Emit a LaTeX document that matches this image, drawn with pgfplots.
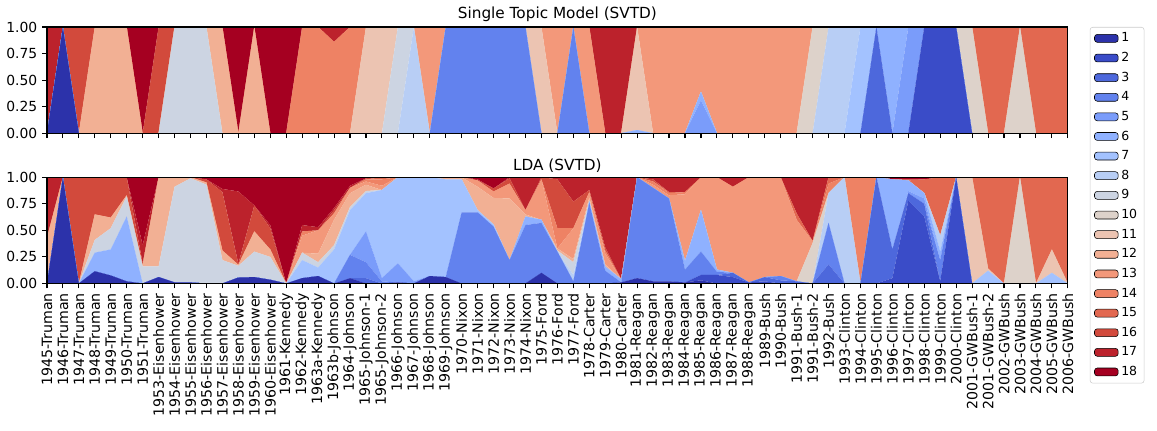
\documentclass[border=0pt]{standalone}
\usepackage{fontspec}
\setmainfont{DejaVu Sans}
\usepackage{pgfplots}
\usepackage{pgfplotstable}
\pgfplotsset{compat=1.18}

% coolwarm-like colours for topics 1..18
\definecolor{c1}{RGB}{44,50,170}
\definecolor{c2}{RGB}{58,76,200}
\definecolor{c3}{RGB}{77,104,220}
\definecolor{c4}{RGB}{98,130,238}
\definecolor{c5}{RGB}{122,156,250}
\definecolor{c6}{RGB}{143,177,255}
\definecolor{c7}{RGB}{163,194,255}
\definecolor{c8}{RGB}{184,206,245}
\definecolor{c9}{RGB}{204,212,226}
\definecolor{c10}{RGB}{221,210,202}
\definecolor{c11}{RGB}{236,196,178}
\definecolor{c12}{RGB}{242,176,148}
\definecolor{c13}{RGB}{243,152,122}
\definecolor{c14}{RGB}{238,130,100}
\definecolor{c15}{RGB}{226,104,80}
\definecolor{c16}{RGB}{210,74,60}
\definecolor{c17}{RGB}{188,34,44}
\definecolor{c18}{RGB}{165,0,33}

% single topic model
\pgfplotstableread{
k t1 t2 t3 t4 t5 t6 t7 t8 t9 t10 t11 t12 t13 t14 t15 t16 t17 t18
0  0 0 0 0 0 0 0 0 0 0 0 0 0 0 0 0 1 0
1  1 0 0 0 0 0 0 0 0 0 0 0 0 0 0 0 0 0
2  0 0 0 0 0 0 0 0 0 0 0 0 0 0 0 1 0 0
3  0 0 0 0 0 0 0 0 0 0 0 1 0 0 0 0 0 0
4  0 0 0 0 0 0 0 0 0 0 0 1 0 0 0 0 0 0
5  0 0 0 0 0 0 0 0 0 0 0 1 0 0 0 0 0 0
6  0 0 0 0 0 0 0 0 0 0 0 0 0 0 0 0 0 1
7  0 0 0 0 0 0 0 0 0 0 0 0 0 0 0 1 0 0
8  0 0 0 0 0 0 0 0 1 0 0 0 0 0 0 0 0 0
9  0 0 0 0 0 0 0 0 1 0 0 0 0 0 0 0 0 0
10 0 0 0 0 0 0 0 0 1 0 0 0 0 0 0 0 0 0
11 0 0 0 0 0 0 0 0 0 0 0 1 0 0 0 0 0 0
12 0 0 0 0 0 0 0 0 0 0 0 0 0 0 0 0 0 1
13 0 0 0 0 0 0 0 0 0 0 0 1 0 0 0 0 0 0
14 0 0 0 0 0 0 0 0 0 0 0 0 0 0 0 0 0 1
15 0 0 0 0 0 0 0 0 0 0 0 0 0 0 0 0 0 1
16 0 0 0 0 0 0 0 0 0 0 0 0 0 1 0 0 0 0
17 0 0 0 0 0 0 0 0 0 0 0 0 0 1 0 0 0 0
18 0 0 0 0 0 0 0 0 0 0 0 0 0 0.86 0 0 0.14 0
19 0 0 0 0 0 0 0 0 0 0 0 0 0 1 0 0 0 0
20 0 0 0 0 0 0 0 0 0 0 1 0 0 0 0 0 0 0
21 0 0 0 0 0 0 0 0 0 0 1 0 0 0 0 0 0 0
22 0 0 0 0 0 0 0 0 1 0 0 0 0 0 0 0 0 0
23 0 0 0 0 0 0 0 1 0 0 0 0 0 0 0 0 0 0
24 0 0 0 0 0 0 0 0 0 0 0 0 1 0 0 0 0 0
25 0 0 0 1 0 0 0 0 0 0 0 0 0 0 0 0 0 0
26 0 0 0 1 0 0 0 0 0 0 0 0 0 0 0 0 0 0
27 0 0 0 1 0 0 0 0 0 0 0 0 0 0 0 0 0 0
28 0 0 0 1 0 0 0 0 0 0 0 0 0 0 0 0 0 0
29 0 0 0 1 0 0 0 0 0 0 0 0 0 0 0 0 0 0
30 0 0 0 1 0 0 0 0 0 0 0 0 0 0 0 0 0 0
31 0 0 0 0 0 0 0 0 0 0 1 0 0 0 0 0 0 0
32 0 0 0 0 0 0 0 0 0 0 0 0 1 0 0 0 0 0
33 0 0 0 1 0 0 0 0 0 0 0 0 0 0 0 0 0 0
34 0 0 0 0 0 0 0 0 0 0 0 0 1 0 0 0 0 0
35 0 0 0 0 0 0 0 0 0 0 0 0 0 0 0 0 1 0
36 0 0 0 0 0 0 0 0 0 0 0 0 0 0 0 0 1 0
37 0 0 0 0 0 0.03 0 0 0 0 0.97 0 0 0 0 0 0 0
38 0 0 0 0 0 0 0 0 0 0 0 0 1 0 0 0 0 0
39 0 0 0 0 0 0 0 0 0 0 0 0 1 0 0 0 0 0
40 0 0 0 0 0 0 0 0 0 0 0 0 1 0 0 0 0 0
41 0 0 0 0 0.31 0.08 0 0 0 0 0 0 0.61 0 0 0 0 0
42 0 0 0 0 0 0 0 0 0 0 0 0 1 0 0 0 0 0
43 0 0 0 0 0 0 0 0 0 0 0 0 1 0 0 0 0 0
44 0 0 0 0 0 0 0 0 0 0 0 0 1 0 0 0 0 0
45 0 0 0 0 0 0 0 0 0 0 0 0 1 0 0 0 0 0
46 0 0 0 0 0 0 0 0 0 0 0 0 1 0 0 0 0 0
47 0 0 0 0 0 0 0 0 0 0 0 0 1 0 0 0 0 0
48 0 0 0 0 0 0 0 0 0 1 0 0 0 0 0 0 0 0
49 0 0 0 0 0 0 0 1 0 0 0 0 0 0 0 0 0 0
50 0 0 0 0 0 0 0 1 0 0 0 0 0 0 0 0 0 0
51 0 0 0 0 0 0 1 0 0 0 0 0 0 0 0 0 0 0
52 0 0 1 0 0 0 0 0 0 0 0 0 0 0 0 0 0 0
53 0 0 0 0 0 1 0 0 0 0 0 0 0 0 0 0 0 0
54 0 0 0 0 1 0 0 0 0 0 0 0 0 0 0 0 0 0
55 0 1 0 0 0 0 0 0 0 0 0 0 0 0 0 0 0 0
56 0 1 0 0 0 0 0 0 0 0 0 0 0 0 0 0 0 0
57 0 1 0 0 0 0 0 0 0 0 0 0 0 0 0 0 0 0
58 0 0 0 0 0 0 0 0 0 1 0 0 0 0 0 0 0 0
59 0 0 0 0 0 0 0 0 0 0 0 0 0 0 1 0 0 0
60 0 0 0 0 0 0 0 0 0 0 0 0 0 0 1 0 0 0
61 0 0 0 0 0 0 0 0 0 1 0 0 0 0 0 0 0 0
62 0 0 0 0 0 0 0 0 0 0 0 0 0 0 1 0 0 0
63 0 0 0 0 0 0 0 0 0 0 0 0 0 0 1 0 0 0
64 0 0 0 0 0 0 0 0 0 0 0 0 0 0 1 0 0 0
}\singletab

% LDA mixtures
\pgfplotstableread{
k t1 t2 t3 t4 t5 t6 t7 t8 t9 t10 t11 t12 t13 t14 t15 t16 t17 t18
0  0 0 0 0 0 0 0 0 0 0 0 0.43 0 0 0 0 0.57 0
1  1 0 0 0 0 0 0 0 0 0 0 0 0 0 0 0 0 0
2  0 0 0 0 0 0 0 0 0 0 0 0 0 0 0 1 0 0
3  0.115 0 0 0 0 0.175 0 0 0.12 0 0 0.24 0 0 0 0.35 0 0
4  0.075 0 0 0 0 0.245 0 0 0.2 0 0 0.1 0 0 0 0.38 0 0
5  0.02 0 0 0 0 0.61 0 0 0.19 0 0 0.01 0 0 0 0.17 0 0
6  0 0 0 0 0 0 0 0 0.16 0 0 0.01 0 0 0 0.02 0.17 0.64
7  0.06 0 0 0 0 0 0 0 0.1 0 0 0.84 0 0 0 0 0 0
8  0.01 0 0 0 0 0 0 0 0.9 0 0 0.09 0 0 0 0 0 0
9  0.01 0 0 0 0 0 0 0 0.98 0 0 0.01 0 0 0 0 0 0
10 0 0 0 0 0 0 0 0 0.93 0 0 0.02 0 0 0 0.03 0 0.02
11 0 0 0 0 0 0 0 0 0.22 0 0 0.09 0 0 0 0.55 0.03 0.11
12 0.056 0 0 0 0 0 0 0 0.11 0 0 0.01 0 0 0 0.01 0.68 0.134
13 0.06 0 0 0 0 0 0 0 0.24 0 0 0.19 0 0 0 0.245 0 0.265
14 0.035 0 0 0 0 0 0 0 0.215 0 0 0.07 0 0 0 0.2 0.03 0.45
15 0 0 0 0 0 0 0 0 0 0 0 0 0 0 0 0 0 1
16 0.05 0 0 0 0 0 0.17 0 0.07 0 0 0 0.16 0.04 0 0 0.06 0.45
17 0.07 0 0 0 0 0 0.08 0 0.05 0 0 0.08 0.22 0 0 0 0.03 0.47
18 0 0 0 0 0 0 0.32 0 0.04 0 0 0.24 0.06 0 0 0.03 0.02 0.29
19 0.05 0 0 0.22 0 0 0.42 0 0.03 0 0 0.13 0.05 0 0 0 0.02 0.08
20 0 0 0.05 0.15 0.29 0 0.36 0 0.02 0 0 0.06 0.03 0.02 0 0.01 0 0.01
21 0 0 0 0.02 0.03 0 0.83 0 0 0 0 0 0.04 0.06 0.02 0 0 0
22 0.01 0 0 0 0.18 0 0.81 0 0 0 0 0 0 0 0 0 0 0
23 0 0 0 0 0.02 0 0.98 0 0 0 0 0 0 0 0 0 0 0
24 0.07 0 0 0 0 0 0.93 0 0 0 0 0 0 0 0 0 0 0
25 0.06 0 0 0 0 0 0.92 0 0 0 0 0.02 0 0 0 0 0 0
26 0 0 0 0.67 0 0 0.31 0 0 0 0 0.02 0 0 0 0 0 0
27 0 0 0 0.67 0 0 0.02 0 0 0 0 0.22 0.06 0 0 0 0.01 0.02
28 0 0 0 0.535 0 0 0.02 0 0 0 0 0.25 0.06 0 0 0.03 0 0.105
29 0 0 0 0.22 0 0 0 0 0 0 0 0.58 0.14 0 0 0.05 0.01 0
30 0 0 0 0.55 0 0.08 0 0 0 0 0 0.02 0.04 0 0 0 0.31 0
31 0.1 0 0 0.47 0 0.03 0 0 0 0 0 0 0.38 0 0 0.02 0 0
32 0 0 0 0.3 0 0 0 0 0.01 0 0 0.02 0 0.19 0 0.46 0.02 0
33 0 0 0 0.02 0 0 0 0.06 0.12 0 0 0.03 0.29 0 0 0.25 0.23 0
34 0 0 0 0.76 0 0 0.02 0 0 0 0 0.03 0.05 0 0 0.02 0.12 0
35 0 0 0 0.12 0 0.04 0 0 0 0 0 0.02 0.1 0.03 0 0.03 0.66 0
36 0.01 0 0 0 0 0.03 0 0 0 0 0 0 0 0 0 0 0.96 0
37 0.05 0 0 0.95 0 0 0 0 0 0 0 0 0 0 0 0 0 0
38 0.02 0 0 0.88 0 0 0 0 0 0 0 0 0.03 0.03 0 0.02 0.02 0
39 0.02 0 0 0.78 0 0 0 0 0 0 0 0 0.03 0.02 0.01 0 0.14 0
40 0.01 0 0 0.12 0 0.08 0 0 0 0 0 0 0.63 0.02 0 0 0.14 0
41 0.03 0.05 0 0.22 0 0.39 0 0 0 0 0 0 0.31 0 0 0 0 0
42 0 0.08 0 0.03 0 0.02 0 0 0 0 0 0 0.87 0 0 0 0 0
43 0 0.06 0.04 0 0 0 0 0 0 0 0 0 0.81 0 0 0 0.09 0
44 0 0.01 0 0 0 0 0 0 0 0 0 0 0.99 0 0 0 0 0
45 0 0.02 0.04 0 0 0 0 0 0 0 0 0 0.94 0 0 0 0 0
46 0 0 0.03 0.04 0 0 0 0 0 0 0 0 0.93 0 0 0 0 0
47 0 0 0.02 0 0 0 0 0 0 0 0 0 0.58 0 0.06 0 0.34 0
48 0 0 0 0 0 0 0 0 0 0.38 0 0 0.02 0 0 0 0.6 0
49 0 0 0.18 0.39 0 0 0 0.28 0 0 0 0 0 0.09 0.06 0 0 0
50 0 0 0 0 0 0 0 1 0 0 0 0 0 0 0 0 0 0
51 0 0 0 0 0 0 0 0 0 0 0 0 0 1 0 0 0 0
52 0 0 1 0 0 0 0 0 0 0 0 0 0 0 0 0 0 0
53 0 0.05 0.27 0 0 0.66 0 0 0 0 0 0 0 0 0 0 0 0.02
54 0 0.78 0.07 0 0.02 0.1 0 0 0 0 0 0 0 0 0 0.01 0 0.02
55 0 0.63 0.12 0 0.05 0.05 0 0 0 0 0 0 0 0 0.13 0 0 0.02
56 0 0.02 0 0.2 0 0.08 0 0.15 0 0 0 0 0 0 0.55 0 0 0
57 0 1 0 0 0 0 0 0 0 0 0 0 0 0 0 0 0 0
58 0 0 0 0 0 0 0 0 0 0 1 0 0 0 0 0 0 0
59 0 0 0 0 0 0 0.12 0 0 0 0.02 0 0 0 0.86 0 0 0
60 0 0 0 0 0 0 0 0 0 0 0 0 0 0 1 0 0 0
61 0 0 0 0 0 0 0 0 0 1 0 0 0 0 0 0 0 0
62 0 0 0 0 0 0 0 0 0 0 0 0 0 0 1 0 0 0
63 0 0 0 0 0 0 0.1 0 0 0 0.22 0 0 0 0.68 0 0 0
64 0 0 0 0 0 0 0 0 0 0 0 0 0 0 1 0 0 0
}\ldatab

\pgfplotsset{
  panel/.style={
    scale only axis, width=735pt, height=76.5pt,
    xmin=0, xmax=64, ymin=0, ymax=1,
    stack plots=y, area style, axis on top,
    xtick={0,...,64}, ytick={0,0.25,0.5,0.75,1},
    tick align=outside, xtick pos=bottom, ytick pos=left,
    major tick length=3.5pt,
    every tick/.style={black, line width=0.8pt},
    axis line style={line width=0.8pt},
    /pgf/number format/assume math mode=true,
    yticklabel style={/pgf/number format/fixed, /pgf/number format/fixed zerofill,
      /pgf/number format/precision=2},
    y tick label style={font=\fontsize{10}{12}\selectfont},
    title style={font=\fontsize{11}{13}\selectfont, yshift=-6pt},
  },
}

\begin{document}
\begin{tikzpicture}
\begin{axis}[panel, name=top, at={(0,0)}, anchor=north west,
    title={Single Topic Model (SVTD)},
    xticklabels={},
    legend entries={1,2,3,4,5,6,7,8,9,10,11,12,13,14,15,16,17,18},
    legend cell align=left,
    legend style={at={(1.0215,1)}, anchor=north west, draw=black!20,
      rounded corners=2pt, font=\fontsize{9}{10}\selectfont, row sep=2pt},
  ]
  \pgfplotsinvokeforeach{1,...,18}{
    \addplot[fill=c#1, draw=none] table[x=k, y=t#1] {\singletab} \closedcycle;
  }
\end{axis}

\begin{axis}[panel, name=bot, at={(top.south west)}, anchor=north west, yshift=-31.7pt,
    title={LDA (SVTD)},
    xticklabels={1945-Truman,1946-Truman,1947-Truman,1948-Truman,1949-Truman,1950-Truman,
      1951-Truman,1953-Eisenhower,1954-Eisenhower,1955-Eisenhower,1956-Eisenhower,
      1957-Eisenhower,1958-Eisenhower,1959-Eisenhower,1960-Eisenhower,1961-Kennedy,
      1962-Kennedy,1963a-Kennedy,1963b-Johnson,1964-Johnson,1965-Johnson-1,1965-Johnson-2,
      1966-Johnson,1967-Johnson,1968-Johnson,1969-Johnson,1970-Nixon,1971-Nixon,1972-Nixon,
      1973-Nixon,1974-Nixon,1975-Ford,1976-Ford,1977-Ford,1978-Carter,1979-Carter,
      1980-Carter,1981-Reagan,1982-Reagan,1983-Reagan,1984-Reagan,1985-Reagan,1986-Reagan,
      1987-Reagan,1988-Reagan,1989-Bush,1990-Bush,1991-Bush-1,1991-Bush-2,1992-Bush,
      1993-Clinton,1994-Clinton,1995-Clinton,1996-Clinton,1997-Clinton,1998-Clinton,
      1999-Clinton,2000-Clinton,2001-GWBush-1,2001-GWBush-2,2002-GWBush,2003-GWBush,
      2004-GWBush,2005-GWBush,2006-GWBush},
    x tick label style={rotate=90, anchor=east, font=\fontsize{10.2}{12}\selectfont},
  ]
  \pgfplotsinvokeforeach{1,...,18}{
    \addplot[fill=c#1, draw=none] table[x=k, y=t#1] {\ldatab} \closedcycle;
  }
\end{axis}

\path ([xshift=-33.8pt, yshift=19.4pt]top.north west)
  rectangle ([xshift=799.2pt, yshift=-290.2pt]top.north west);
\end{tikzpicture}
\end{document}
